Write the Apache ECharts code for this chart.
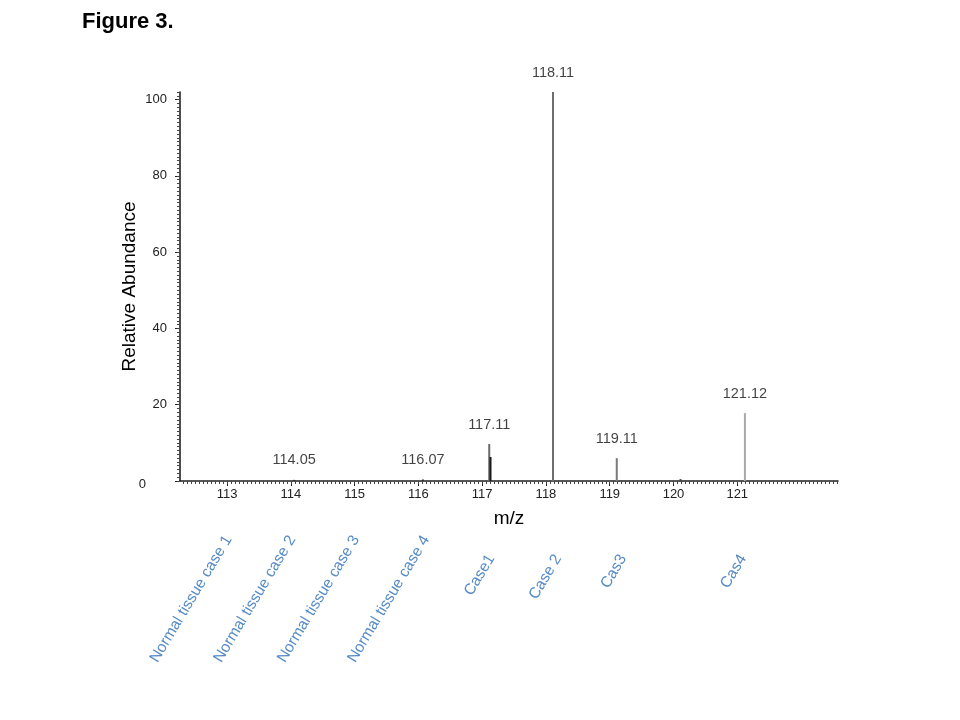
<!DOCTYPE html>
<html><head><meta charset="utf-8">
<script src="https://cdn.jsdelivr.net/npm/echarts@6/dist/echarts.min.js"></script>
<style>html,body{margin:0;padding:0;background:#fff}#c{width:960px;height:720px}</style>
</head><body><div id="c"></div>
<script>
// ---- data ----
const peakMz        = [114.05, 116.07, 117.11, 117.13, 118.11, 119.11, 120.11, 121.12];
const peakAbundance = [0.3,    0.4,    9.7,    6.3,    102,    6.0,    0.5,    17.8];
const labeledMz        = [114.05, 116.07, 117.11, 118.11, 119.11, 121.12];
const labeledAbundance = [0.3,    0.4,    9.7,    102,    6.0,    17.8];
const xTickValues = [113, 114, 115, 116, 117, 118, 119, 120, 121];
const yTickValues = [0, 20, 40, 60, 80, 100];
const sampleNames = ['Normal tissue case 1', 'Normal tissue case 2', 'Normal tissue case 3', 'Normal tissue case 4', 'Case1', 'Case 2', 'Cas3', 'Cas4'];
const sampleMz    = [113.02, 114.02, 115.02, 116.12, 117.14, 118.19, 119.21, 121.09];
const sampleRow   = [0, 0, 0, 0, 1, 1, 1, 1];

// ---- styles ----
const peakColors = ['#333', '#333', '#6a6a6a', '#1a1a1a', '#6e6e6e', '#7a7a7a', '#444', '#a8a8a8'];
const FONT = '"Liberation Sans", Arial, sans-serif';
const X_MIN = 112.26, X_MAX = 122.58, Y_MAX = 102;

const xMinor = [];
for (let i = Math.ceil(X_MIN * 16); i <= Math.floor(X_MAX * 16); i++) xMinor.push(i / 16);
const yMinor = [];
for (let i = 0; i <= Y_MAX; i++) yMinor.push(i);

const chart = echarts.init(document.getElementById('c'), null, {renderer: 'canvas'});
const axisColor = '#222';
chart.setOption({
  animation: false,
  backgroundColor: '#fff',
  title: {
    text: '{b|Figure 3}{n|.}', left: 77, top: 6,
    textStyle: {rich: {
      b: {fontFamily: FONT, fontWeight: 'bold', fontSize: 22, color: '#000'},
      n: {fontFamily: FONT, fontSize: 22, color: '#000'}
    }}
  },
  grid: [
    {left: 180, right: 122, top: 92, bottom: 239},
    {left: 180, right: 122, top: 537, height: 19}
  ],
  xAxis: [
    {
      type: 'value', gridIndex: 0, min: X_MIN, max: X_MAX, position: 'bottom',
      name: 'm/z', nameLocation: 'middle', nameGap: 28, nameMoveOverlap: false,
      nameTextStyle: {fontFamily: FONT, fontSize: 19, color: '#000'},
      axisLine: {show: true, onZero: false, lineStyle: {color: axisColor, width: 1.6}},
      axisTick: {show: true, customValues: xTickValues, length: 5, lineStyle: {color: axisColor}},
      axisLabel: {customValues: xTickValues, fontFamily: FONT, fontSize: 13, color: '#222', margin: 7},
      splitLine: {show: false}
    },
    {
      type: 'value', gridIndex: 0, min: X_MIN, max: X_MAX, position: 'bottom', offset: 0,
      axisLine: {show: false},
      axisTick: {show: true, customValues: xMinor, length: 3, lineStyle: {color: '#444'}},
      axisLabel: {show: false}, splitLine: {show: false}
    },
    {
      type: 'value', gridIndex: 1, min: X_MIN, max: X_MAX, show: false
    }
  ],
  yAxis: [
    {
      type: 'value', gridIndex: 0, min: 0, max: Y_MAX, position: 'left',
      name: 'Relative Abundance', nameLocation: 'middle', nameGap: 41, nameRotate: 90,
      nameMoveOverlap: false,
      nameTextStyle: {fontFamily: FONT, fontSize: 19, color: '#000'},
      axisLine: {show: true, lineStyle: {color: axisColor, width: 1.6}},
      axisTick: {show: true, customValues: yTickValues, length: 5, lineStyle: {color: axisColor}},
      axisLabel: {
        customValues: yTickValues, fontFamily: FONT, fontSize: 13, color: '#222', margin: 13,
        formatter: v => v === 0 ? '{z|0}' : String(v),
        rich: {z: {fontFamily: FONT, fontSize: 13, color: '#222', padding: [7, 21, 0, 0]}}
      },
      splitLine: {show: false}
    },
    {
      type: 'value', gridIndex: 0, min: 0, max: Y_MAX, position: 'left', offset: 0,
      axisLine: {show: false},
      axisTick: {show: true, customValues: yMinor, length: 3, lineStyle: {color: '#444'}},
      axisLabel: {show: false}, splitLine: {show: false}
    },
    {
      type: 'value', gridIndex: 1, min: 0, max: 1, inverse: true, show: false
    }
  ],
  series: [
    {
      type: 'custom', xAxisIndex: 0, yAxisIndex: 0, clip: false,
      data: peakMz.map((m, i) => [m, peakAbundance[i]]),
      renderItem: (params, api) => {
        const p0 = api.coord([api.value(0), 0]);
        const p1 = api.coord([api.value(0), api.value(1)]);
        return {
          type: 'line',
          shape: {x1: p0[0], y1: p0[1], x2: p1[0], y2: p1[1]},
          style: {stroke: peakColors[params.dataIndex], lineWidth: 2}
        };
      }
    },
    {
      type: 'scatter', xAxisIndex: 0, yAxisIndex: 0, symbolSize: 0, silent: true,
      data: labeledMz.map((m, i) => [m, labeledAbundance[i]]),
      label: {
        show: true, position: 'top', distance: 12,
        fontFamily: FONT, fontSize: 14.5, color: '#111',
        formatter: p => p.value[0].toFixed(2)
      }
    },
    {
      type: 'scatter', xAxisIndex: 2, yAxisIndex: 2, symbolSize: 0, silent: true,
      data: sampleMz.map((m, i) => ({value: [m, sampleRow[i]], name: sampleNames[i]})),
      label: {
        show: true, position: [0, 0], rotate: 59, align: 'right', verticalAlign: 'middle',
        fontFamily: FONT, fontSize: 15.5, color: '#2a6db8',
        formatter: p => p.name
      }
    }
  ]
});
</script>
</body></html>
